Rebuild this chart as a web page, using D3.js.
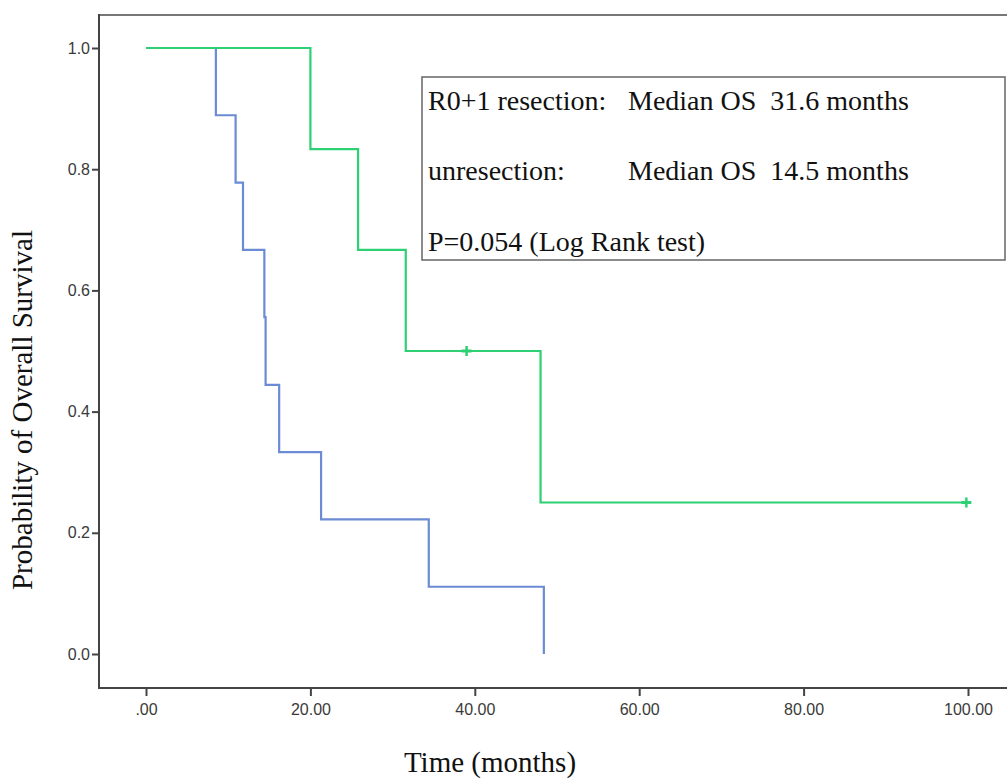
<!DOCTYPE html>
<html>
<head>
<meta charset="utf-8">
<script src="https://cdn.jsdelivr.net/npm/d3@7"></script>
<style>
html,body{margin:0;padding:0;background:#fff;}
svg{display:block;}
</style>
</head>
<body>
<svg id="chart" width="1007" height="778"></svg>
<script>
// ---- data ----
const unresTimes = [0, 8.5, 10.9, 11.8, 14.4, 14.55, 16.2, 21.3, 34.4, 48.4];
const unresSurv  = [1, 0.889, 0.778, 0.667, 0.556, 0.444, 0.333, 0.222, 0.111, 0];
const resTimes   = [0, 20.0, 25.8, 31.6, 48.0, 99.8];
const resSurv    = [1, 0.833, 0.667, 0.5, 0.25, 0.25];
const resCensorTimes = [39.0, 99.8];
const resCensorSurv  = [0.5, 0.25];
const xTicks = [0, 20, 40, 60, 80, 100];
const yTicks = [0, 0.2, 0.4, 0.6, 0.8, 1.0];
const legendLines = [
  ["R0+1 resection:", "Median OS  31.6 months"],
  ["unresection:", "Median OS  14.5 months"],
  ["P=0.054 (Log Rank test)", ""]
];

const svg = d3.select("#chart");
const x = d3.scaleLinear().domain([0, 100]).range([146, 968]);
const y = d3.scaleLinear().domain([0, 1]).range([654, 48]);

const axisColor = "#444";

// frame
svg.append("line").attr("x1", 99).attr("x2", 1007).attr("y1", 15).attr("y2", 15)
  .attr("stroke", "#777").attr("stroke-width", 2);
svg.append("line").attr("x1", 99).attr("x2", 99).attr("y1", 14).attr("y2", 689)
  .attr("stroke", axisColor).attr("stroke-width", 2);
svg.append("line").attr("x1", 98).attr("x2", 1007).attr("y1", 688).attr("y2", 688)
  .attr("stroke", axisColor).attr("stroke-width", 2);

// y axis
const yAxis = d3.axisLeft(y).tickValues(yTicks).tickFormat(d3.format(".1f")).tickSize(7).tickSizeOuter(0);
const gy = svg.append("g").attr("transform", "translate(99,0)").call(yAxis);
gy.select(".domain").remove();
gy.selectAll(".tick line").attr("stroke", axisColor).attr("stroke-width", 2);
gy.selectAll(".tick text").attr("fill", "#3a3a3a").attr("x", -9)
  .style("font-family", "'Liberation Sans', Arial, sans-serif").style("font-size", "16px");

// x axis
const xAxis = d3.axisBottom(x).tickValues(xTicks)
  .tickFormat(d => d === 0 ? ".00" : d3.format(".2f")(d)).tickSize(8).tickSizeOuter(0);
const gx = svg.append("g").attr("transform", "translate(0,688)").call(xAxis);
gx.select(".domain").remove();
gx.selectAll(".tick line").attr("stroke", axisColor).attr("stroke-width", 2);
gx.selectAll(".tick text").attr("fill", "#3a3a3a").attr("y", 16)
  .style("font-family", "'Liberation Sans', Arial, sans-serif").style("font-size", "16px");

// curves
const line = d3.line().x(d => x(d[0])).y(d => y(d[1])).curve(d3.curveStepAfter);
const blueData = unresTimes.map((t, i) => [t, unresSurv[i]]);
const greenData = resTimes.map((t, i) => [t, resSurv[i]]);

svg.append("path").datum(blueData).attr("d", line)
  .attr("fill", "none").attr("stroke", "#6b8bd4").attr("stroke-width", 2.2);
svg.append("path").datum(greenData).attr("d", line)
  .attr("fill", "none").attr("stroke", "#2fcf73").attr("stroke-width", 2.2);

// censor marks (plus signs)
resCensorTimes.forEach((t, i) => {
  const cx = x(t), cy = y(resCensorSurv[i]);
  svg.append("line").attr("x1", cx).attr("x2", cx).attr("y1", cy - 5).attr("y2", cy + 5)
    .attr("stroke", "#2fcf73").attr("stroke-width", 2.5);
  svg.append("line").attr("x1", cx - 5).attr("x2", cx + 5).attr("y1", cy).attr("y2", cy)
    .attr("stroke", "#2fcf73").attr("stroke-width", 3);
});

// legend box
svg.append("rect").attr("x", 422).attr("y", 77).attr("width", 583).attr("height", 183)
  .attr("fill", "#fff").attr("stroke", "#666").attr("stroke-width", 1.5);
const serif = "'Liberation Serif', 'Times New Roman', serif";
const lineY = [110, 180, 251];
legendLines.forEach((l, i) => {
  svg.append("text").attr("x", 428).attr("y", lineY[i]).text(l[0])
    .style("font-family", serif).style("font-size", "28px").attr("fill", "#111");
  if (l[1]) svg.append("text").attr("x", 628).attr("y", lineY[i]).text(l[1])
    .style("font-family", serif).style("font-size", "28px").attr("fill", "#111")
    .attr("xml:space", "preserve").style("white-space", "pre");
});

// axis titles
svg.append("text").attr("transform", "translate(32,410) rotate(-90)")
  .attr("text-anchor", "middle").text("Probability of Overall Survival")
  .style("font-family", serif).style("font-size", "29px").attr("fill", "#111");
svg.append("text").attr("x", 490).attr("y", 772).attr("text-anchor", "middle")
  .text("Time (months)")
  .style("font-family", serif).style("font-size", "29px").attr("fill", "#111");
</script>
</body>
</html>
